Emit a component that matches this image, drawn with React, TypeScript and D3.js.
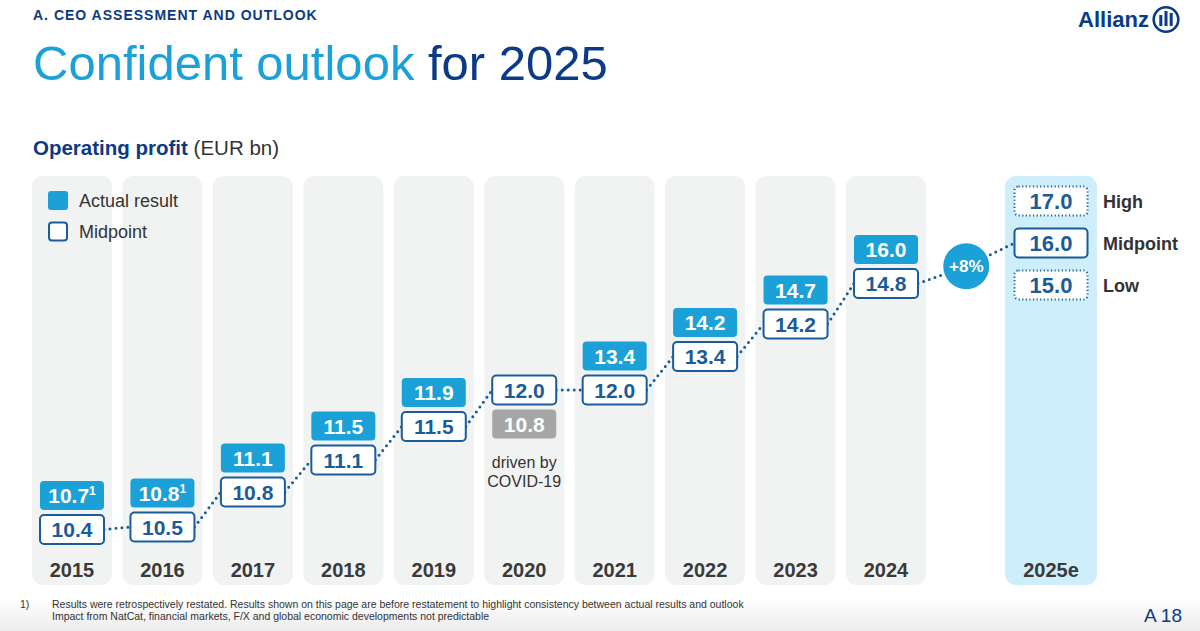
import * as d3 from 'd3';

// ---- data ----
const years = ['2015', '2016', '2017', '2018', '2019', '2020', '2021', '2022', '2023', '2024'];
const midpointValues = [10.4, 10.5, 10.8, 11.1, 11.5, 12.0, 12.0, 13.4, 14.2, 14.8];
const actualValues = [10.7, 10.8, 11.1, 11.5, 11.9, 10.8, 13.4, 14.2, 14.7, 16.0];
const actualNotes = ['1', '1', '', '', '', '', '', '', '', ''];
const covidYear = '2020';
const covidNote = ['driven by', 'COVID-19'];
const outlookYear = '2025e';
const outlookLabels = ['High', 'Midpoint', 'Low'];
const outlookValues = [17.0, 16.0, 15.0];
const growthLabel = '+8%';
const legendLabels = ['Actual result', 'Midpoint'];
const footnotes = [
  'Results were retrospectively restated. Results shown on this page are before restatement to highlight consistency between actual results and outlook',
  'Impact from NatCat, financial markets, F/X and global economic developments not predictable',
];

// staircase layout of the slide: a broken (polylinear) value scale
const levelKnots = [10.4, 10.5, 10.8, 11.1, 11.5, 12.0, 13.4, 14.2, 14.8, 16.0];
const levelRange = [529.5, 527, 492, 460, 426.5, 390, 356.5, 324, 283.5, 243];

const FONT = '"Liberation Sans", Arial, Helvetica, sans-serif';
const LIGHT_BLUE = '#1ba1d7';
const DARK_BLUE = '#0b3a86';
const BOX_BLUE = '#1a5c99';
const TEXT = '#333333';

const W = 1200;
const H = 631;
const colTop = 176;
const colBottom = 585;
const colW = 80;
const boxW = 64;
const boxH = 29;
const stackGap = 34;

export default function App() {
  const x = d3.scalePoint<string>().domain(years).range([72, 886]);
  const y = d3.scaleLinear().domain(levelKnots).range(levelRange);
  const xOut = (x('2024') as number) + 165;
  const outBoxW = 73;

  const line = d3.line<[number, number]>();
  const segs: [number, number][][] = [];
  for (let i = 0; i < years.length - 1; i++) {
    segs.push([
      [(x(years[i]) as number) + boxW / 2, y(midpointValues[i])],
      [(x(years[i + 1]) as number) - boxW / 2, y(midpointValues[i + 1])],
    ]);
  }
  const last = years.length - 1;
  const p0: [number, number] = [(x(years[last]) as number) + boxW / 2, y(midpointValues[last])];
  const p2: [number, number] = [xOut - outBoxW / 2, y(outlookValues[1])];
  const circle: [number, number] = [(p0[0] + p2[0]) / 2, (p0[1] + p2[1]) / 2 + 3];
  segs.push([p0, circle, p2]);

  const outY = (i: number) => y(outlookValues[1]) + (i - 1) * 42;

  return (
    <div style={{ position: 'absolute', left: 0, top: 0 }}>
      <svg width={W} height={H} style={{ display: 'block', fontFamily: FONT }}>
        <defs>
          <linearGradient id="foot" x1="0" y1="0" x2="0" y2="1">
            <stop offset="0%" stopColor="#ffffff" />
            <stop offset="100%" stopColor="#ececec" />
          </linearGradient>
        </defs>
        <rect width={W} height={H} fill="#ffffff" />
        <rect y={598} width={W} height={H - 598} fill="url(#foot)" />

        {/* header */}
        <text x={33} y={19.5} fontSize={14} fontWeight="bold" letterSpacing={1} fill={DARK_BLUE}>
          A. CEO ASSESSMENT AND OUTLOOK
        </text>
        <text x={33} y={80} fontSize={49} fill={LIGHT_BLUE}>
          Confident outlook <tspan fill={DARK_BLUE}>for 2025</tspan>
        </text>
        <text x={1149} y={27} fontSize={22} fontWeight="bold" textAnchor="end" fill={DARK_BLUE}>
          Allianz
        </text>
        <g fill="none" stroke={DARK_BLUE}>
          <circle cx={1166} cy={19.5} r={12.3} strokeWidth={2.6} />
        </g>
        <g fill={DARK_BLUE}>
          <rect x={1159.3} y={15} width={3} height={11} />
          <rect x={1164.5} y={11} width={3} height={15} />
          <rect x={1169.7} y={13} width={3} height={13} />
        </g>

        <text x={33} y={155} fontSize={20.5} fill={TEXT}>
          <tspan fontWeight="bold" fill={DARK_BLUE}>Operating profit</tspan> (EUR bn)
        </text>

        {/* columns */}
        {years.map((yr) => (
          <rect key={yr} x={(x(yr) as number) - colW / 2} y={colTop} width={colW}
            height={colBottom - colTop} rx={11} fill="#f1f2f2" />
        ))}
        <rect x={xOut - 46} y={colTop} width={92} height={colBottom - colTop} rx={11} fill="#cdeefa" />

        {/* legend */}
        <rect x={48} y={191} width={20} height={19} rx={3} fill={LIGHT_BLUE} />
        <rect x={49} y={222.5} width={18} height={18} rx={3} fill="#fff" stroke={BOX_BLUE} strokeWidth={2} />
        {legendLabels.map((l, i) => (
          <text key={l} x={79} y={206.5 + i * 31} fontSize={18} fill={TEXT}>{l}</text>
        ))}

        {/* dotted connector */}
        {segs.map((s, i) => (
          <path key={i} d={line(s) as string} fill="none" stroke={BOX_BLUE} strokeWidth={3}
            strokeDasharray="0 6" strokeLinecap="round" />
        ))}

        {/* boxes */}
        {years.map((yr, i) => {
          const cx = x(yr) as number;
          const my = y(midpointValues[i]);
          const covid = yr === covidYear;
          const ay = covid ? my + stackGap : my - stackGap;
          return (
            <g key={yr}>
              <rect x={cx - boxW / 2} y={ay - boxH / 2} width={boxW} height={boxH} rx={4}
                fill={covid ? '#a6a6a6' : LIGHT_BLUE} />
              <text x={cx} y={ay + 7.5} textAnchor="middle" fontSize={21} fontWeight="bold" fill="#fff">
                {actualValues[i].toFixed(1)}
                {actualNotes[i] && <tspan fontSize={12} dy={-8}>{actualNotes[i]}</tspan>}
              </text>
              <rect x={cx - boxW / 2} y={my - boxH / 2} width={boxW} height={boxH} rx={4}
                fill="#fff" stroke={BOX_BLUE} strokeWidth={2} />
              <text x={cx} y={my + 7.5} textAnchor="middle" fontSize={21} fontWeight="bold" fill={BOX_BLUE}>
                {midpointValues[i].toFixed(1)}
              </text>
              {covid && covidNote.map((t, k) => (
                <text key={t} x={cx} y={ay + 44 + k * 19} textAnchor="middle" fontSize={16} fill={TEXT}>{t}</text>
              ))}
              <text x={cx} y={577} textAnchor="middle" fontSize={20} fontWeight="bold" fill="#3a3a3a">{yr}</text>
            </g>
          );
        })}

        {/* growth bubble */}
        <circle cx={circle[0]} cy={circle[1]} r={23} fill={LIGHT_BLUE} />
        <text x={circle[0]} y={circle[1] + 6} textAnchor="middle" fontSize={17} fontWeight="bold" fill="#fff">
          {growthLabel}
        </text>

        {/* 2025 outlook */}
        {outlookValues.map((v, i) => {
          const cy = outY(i);
          return (
            <g key={outlookLabels[i]}>
              <rect x={xOut - outBoxW / 2} y={cy - boxH / 2} width={outBoxW} height={boxH} rx={4}
                fill="#fff" stroke={BOX_BLUE} strokeWidth={2}
                strokeDasharray={i === 1 ? undefined : '1.2 2.4'} />
              <text x={xOut} y={cy + 8} textAnchor="middle" fontSize={22} fontWeight="bold" fill={BOX_BLUE}>
                {v.toFixed(1)}
              </text>
              <text x={1103} y={cy + 6.5} fontSize={18} fontWeight="bold" fill={TEXT}>{outlookLabels[i]}</text>
            </g>
          );
        })}
        <text x={xOut} y={577} textAnchor="middle" fontSize={20} fontWeight="bold" fill="#3a3a3a">{outlookYear}</text>

        {/* footnotes */}
        <text x={20} y={608} fontSize={10.5} fill={TEXT}>1)</text>
        {footnotes.map((f, i) => (
          <text key={i} x={52} y={608 + i * 12} fontSize={10.5} fill={TEXT}>{f}</text>
        ))}
        <text x={1182} y={622} textAnchor="end" fontSize={19} fill={DARK_BLUE}>A 18</text>
      </svg>
    </div>
  );
}
